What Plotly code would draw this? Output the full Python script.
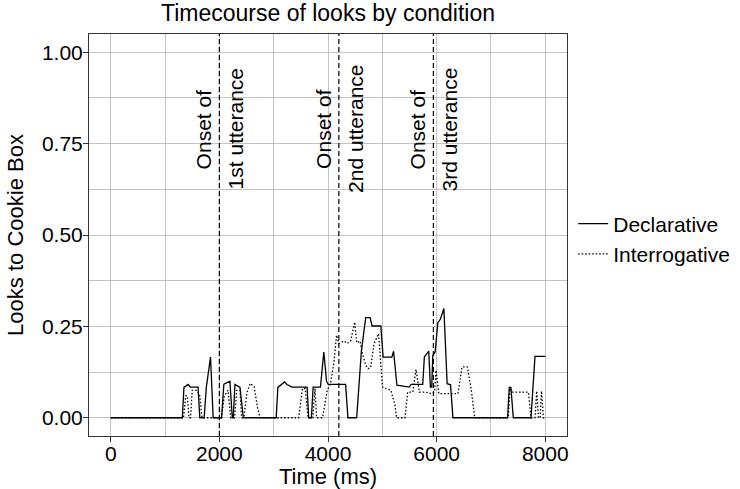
import plotly.graph_objects as go

# ---- data ----
decl_time = [0, 1318, 1348, 1423, 1466, 1608, 1640, 1720, 1760, 1837, 1886, 2040, 2083, 2194, 2238,
             2256, 2287, 2380, 2441, 3046, 3077, 3200, 3244, 3337, 3615, 3645, 3695, 3726, 3861,
             3923, 3973, 4004, 4324, 4367, 4528, 4615, 4694, 4775, 4812, 4972, 5015, 5176, 5207,
             5269, 5497, 5528, 5744, 5774, 5855, 5885, 5910, 5929, 5972, 6022, 6070, 6133, 6194,
             6256, 6300, 7306, 7337, 7367, 7411, 7737, 7811, 8000]
decl_value = [0, 0, 0.083, 0.091, 0.084, 0.084, 0, 0, 0.083, 0.166, 0, 0, 0.092, 0.100, 0,
              0, 0.091, 0.083, 0, 0, 0.083, 0.098, 0.091, 0.084, 0.084, 0, 0, 0.084, 0.084,
              0.180, 0.100, 0.091, 0.091, 0, 0, 0.183, 0.274, 0.274, 0.251, 0.251, 0.166, 0.166, 0.182,
              0.089, 0.084, 0.091, 0.091, 0.166, 0.182, 0.084, 0.084, 0.170, 0.180, 0.260, 0.270, 0.299, 0.093,
              0.090, 0, 0, 0.083, 0.083, 0, 0, 0.168, 0.168]

inter_time = [0, 1340, 1380, 1410, 1440, 1470, 1500, 1590, 1640, 1680, 2040, 2090, 2160, 2210,
              2280, 2320, 2380, 2410, 2450, 2510, 2570, 2640, 2700, 2750, 3460, 3530, 3580, 3633,
              3720, 3760, 3790, 3900, 3985, 4046, 4108, 4157, 4200, 4293, 4355, 4417, 4491, 4528,
              4590, 4633, 4694, 4738, 4787, 4849, 4930, 5004, 5065, 5158, 5232, 5263, 5417, 5467,
              5560, 5620, 5682, 5800, 5900, 5960, 5990, 6040, 6393, 6467, 6565, 6639, 6700, 7320,
              7350, 7400, 7690, 7737, 7811, 7843, 7874, 7905, 7930, 7967, 8000]
inter_value = [0, 0, 0.060, 0.060, 0, 0, 0.075, 0.075, 0.060, 0, 0, 0.060, 0.075, 0,
               0, 0.075, 0.075, 0, 0, 0.070, 0.094, 0.085, 0.030, 0, 0, 0.080, 0.080, 0,
               0, 0.080, 0, 0, 0.075, 0.094, 0.150, 0.226, 0.203, 0.210, 0.203, 0.210, 0.262, 0.205,
               0.210, 0.176, 0.144, 0.134, 0.138, 0.203, 0.230, 0.084, 0.080, 0.075, 0.035, 0, 0, 0.070,
               0.070, 0.132, 0.070, 0.070, 0.066, 0.070, 0.130, 0.066, 0.066, 0.139, 0.139, 0.075, 0, 0,
               0.080, 0.070, 0.070, 0, 0, 0.073, 0, 0, 0.073, 0, 0]

onset_time = [2000, 4200, 5940]
onset_label = ["1st utterance", "2nd utterance", "3rd utterance"]

x_ticks = [0, 2000, 4000, 6000, 8000]
y_ticks = [0.00, 0.25, 0.50, 0.75, 1.00]

FONT = "Liberation Sans, Arial, Helvetica, sans-serif"
GRID = "#c4c4c4"

fig = go.Figure()
fig.add_trace(go.Scatter(x=decl_time, y=decl_value, mode="lines", name="Declarative",
                         line=dict(color="black", width=1.3)))
fig.add_trace(go.Scatter(x=inter_time, y=inter_value, mode="lines", name="Interrogative",
                         line=dict(color="black", width=1.3, dash="1.5px,2px")))

for t, lab in zip(onset_time, onset_label):
    fig.add_shape(type="line", xref="x", yref="paper", x0=t, x1=t, y0=0, y1=1,
                  line=dict(color="black", width=1.2, dash="5px,3px"))
    fig.add_annotation(x=t, y=0.79, xref="x", yref="y", text="Onset of", textangle=-90,
                       showarrow=False, xshift=-16, font=dict(size=21, color="black", family=FONT))
    fig.add_annotation(x=t, y=0.79, xref="x", yref="y", text=lab, textangle=-90,
                       showarrow=False, xshift=16, font=dict(size=21, color="black", family=FONT))

axis_common = dict(showline=True, mirror=True, linecolor="#333333", linewidth=1.1,
                   ticks="outside", ticklen=5, tickcolor="#333333", tickwidth=1.1,
                   showgrid=True, gridcolor=GRID, gridwidth=1, zeroline=False,
                   tickfont=dict(size=21, color="black", family=FONT))

fig.update_xaxes(range=[-400, 8400], tickvals=x_ticks, ticklabelstandoff=-6,
                 minor=dict(dtick=1000, tick0=0, showgrid=True, gridcolor=GRID, gridwidth=1, ticks=""),
                 title=dict(text="Time (ms)", font=dict(size=22, color="black", family=FONT), standoff=3),
                 **axis_common)
fig.update_yaxes(range=[-0.05, 1.05], tickvals=y_ticks, tickformat=".2f", ticklabelstandoff=-4,
                 minor=dict(dtick=0.125, tick0=0, showgrid=True, gridcolor=GRID, gridwidth=1, ticks=""),
                 title=dict(text="Looks to Cookie Box", font=dict(size=22, color="black", family=FONT), standoff=12),
                 **axis_common)

fig.update_layout(
    width=740, height=489,
    margin=dict(l=89, r=173, t=34, b=53, autoexpand=False),
    paper_bgcolor="white", plot_bgcolor="white",
    title=dict(text="Timecourse of looks by condition", x=0.5, xref="paper", xanchor="center",
               y=1 - 13 / 489, yref="container", yanchor="middle",
               font=dict(size=23, color="black", family=FONT)),
    legend=dict(x=1.013, xanchor="left", y=0.49, yanchor="middle", bgcolor="rgba(0,0,0,0)",
                font=dict(size=21, color="black", family=FONT), tracegroupgap=0,
                borderwidth=0),
    showlegend=True,
)

fig.write_html("out.html", config={"displayModeBar": False},
               post_script="document.body.style.margin='0';")
